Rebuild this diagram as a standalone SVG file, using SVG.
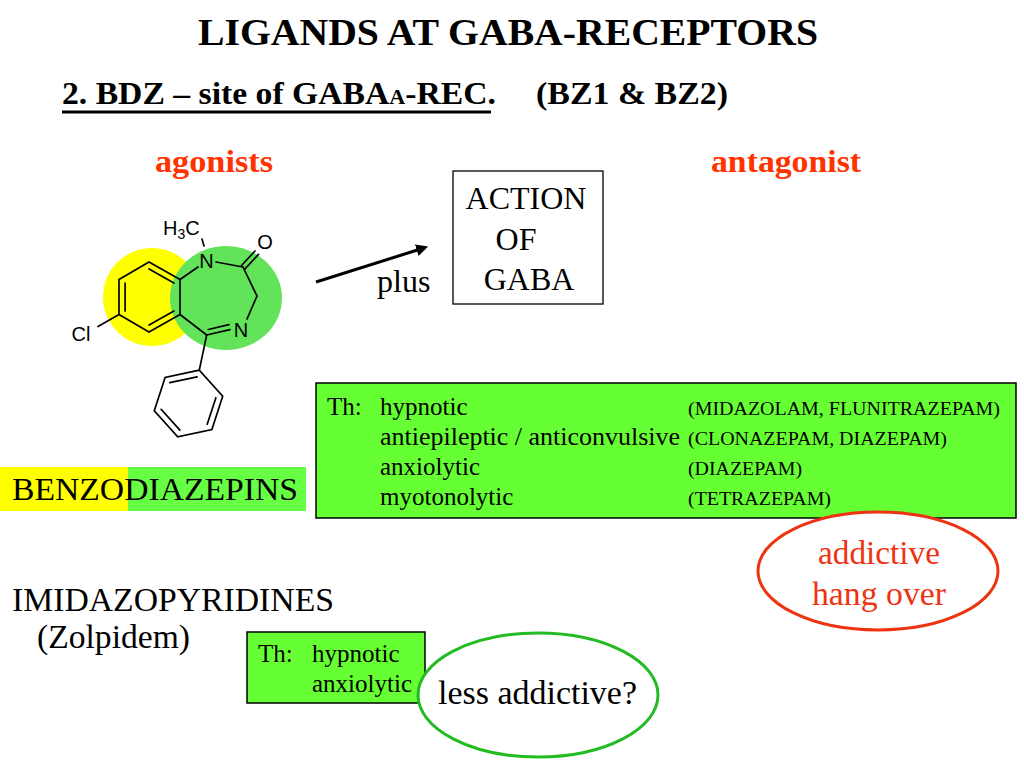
<svg xmlns="http://www.w3.org/2000/svg" width="1024" height="768" viewBox="0 0 1024 768">
<defs>
<style>
.t{font-family:"Liberation Serif","Times New Roman",serif;fill:#000}
.b{font-weight:bold}
.red{fill:#FF3300}
.a{font-family:"Liberation Sans",Arial,sans-serif;font-size:20px;fill:#000}
.bond{stroke:#000;stroke-width:1.7;fill:none;stroke-linecap:round}
.gbox{fill:#66FF33;stroke:#000;stroke-width:1.5}
</style>
<marker id="arr" viewBox="0 0 10 10" refX="2" refY="5" markerWidth="4" markerHeight="4" orient="auto">
<path d="M0,0 L10,5 L0,10 z" fill="#000"/>
</marker>
</defs>
<rect width="1024" height="768" fill="#fff"/>

<g id="title">
<text class="t b" x="508" y="45" font-size="37" text-anchor="middle" textLength="620" lengthAdjust="spacingAndGlyphs">LIGANDS AT GABA-RECEPTORS</text>
</g>

<g id="subtitle">
<text class="t b" x="62" y="104" font-size="32" textLength="434" lengthAdjust="spacingAndGlyphs">2. BDZ – site of GABA<tspan font-size="21">A</tspan>-REC.</text>
<line x1="62" y1="112" x2="491" y2="112" stroke="#000" stroke-width="3"/>
<text class="t b" x="536" y="104" font-size="32" textLength="192" lengthAdjust="spacingAndGlyphs">(BZ1 &amp; BZ2)</text>
</g>

<g id="agonists">
<text class="t b red" x="155" y="172" font-size="32" textLength="118" lengthAdjust="spacingAndGlyphs">agonists</text>
</g>
<g id="antagonist">
<text class="t b red" x="711" y="172" font-size="32" textLength="150" lengthAdjust="spacingAndGlyphs">antagonist</text>
</g>

<g id="molecule">
<ellipse cx="152" cy="297" rx="49" ry="49" fill="#FFFF00"/>
<ellipse cx="226" cy="298" rx="56" ry="52" fill="#62E35A"/>
<polygon class="bond" points="149,262 180,279.5 180,314.5 149,332 119,314.5 119,279.5"/>
<line class="bond" x1="149.1" y1="269" x2="173.9" y2="283"/>
<line class="bond" x1="125.1" y1="283" x2="125.1" y2="311"/>
<line class="bond" x1="173.9" y1="311" x2="149.1" y2="325"/>
<line class="bond" x1="119" y1="314.5" x2="98" y2="326.5"/>
<line class="bond" x1="180" y1="279.5" x2="198" y2="267"/>
<line class="bond" x1="202" y1="239" x2="204" y2="246"/>
<line class="bond" x1="216" y1="262" x2="243" y2="267"/>
<line class="bond" x1="241.5" y1="265.5" x2="255" y2="251"/>
<line class="bond" x1="245" y1="268.8" x2="258.5" y2="254.3"/>
<line class="bond" x1="243" y1="267" x2="257" y2="296"/>
<line class="bond" x1="257" y1="296" x2="247" y2="319"/>
<line class="bond" x1="206.7" y1="335" x2="230" y2="329.7"/>
<line class="bond" x1="208.3" y1="329.5" x2="229" y2="324.7"/>
<line class="bond" x1="206.7" y1="335" x2="180" y2="314.5"/>
<line class="bond" x1="206.7" y1="335" x2="199.3" y2="370.2"/>
<polygon class="bond" points="199.3,370.2 165.1,377.5 154.3,410.8 177.7,436.8 211.9,429.5 222.7,396.2"/>
<line class="bond" x1="197.1" y1="376.9" x2="169.8" y2="382.7"/>
<line class="bond" x1="161.1" y1="409.3" x2="179.9" y2="430.1"/>
<line class="bond" x1="207.2" y1="424.3" x2="215.9" y2="397.7"/>
<text class="a" x="163" y="235">H<tspan font-size="14" dy="4">3</tspan><tspan dy="-4">C</tspan></text>
<text class="a" x="206.5" y="268" text-anchor="middle">N</text>
<text class="a" x="265" y="249" text-anchor="middle">O</text>
<text class="a" x="241" y="337" text-anchor="middle">N</text>
<text class="a" x="81" y="341" text-anchor="middle" font-size="21">Cl</text>
</g>

<g id="connectors">
<line x1="316" y1="282" x2="419" y2="249.5" stroke="#000" stroke-width="3" marker-end="url(#arr)"/>
</g>

<g id="plus">
<text class="t" x="377" y="292" font-size="32">plus</text>
</g>

<g id="action">
<rect x="453" y="171" width="150" height="133" fill="#fff" stroke="#000" stroke-width="1.3"/>
<text class="t" x="526" y="209" font-size="32" text-anchor="middle">ACTION</text>
<text class="t" x="516" y="250" font-size="32" text-anchor="middle">OF</text>
<text class="t" x="529" y="290" font-size="32" text-anchor="middle">GABA</text>
</g>

<g id="benzodiazepins">
<rect x="0" y="467" width="128" height="44" fill="#FFFF00"/>
<rect x="128" y="467" width="178" height="44" fill="#66FF44"/>
<text class="t" x="12" y="500" font-size="32" textLength="286" lengthAdjust="spacingAndGlyphs">BENZODIAZEPINS</text>
</g>

<g id="therapy-bdz">
<rect class="gbox" x="316" y="383" width="700" height="135"/>
<text class="t" font-size="25" x="327" y="415">Th:</text>
<text class="t" font-size="25" x="380" y="415">hypnotic</text>
<text class="t" font-size="25" x="380" y="445" textLength="300" lengthAdjust="spacingAndGlyphs">antiepileptic / anticonvulsive</text>
<text class="t" font-size="25" x="380" y="475">anxiolytic</text>
<text class="t" font-size="25" x="380" y="505">myotonolytic</text>
<text class="t" font-size="19" x="688" y="415" textLength="312" lengthAdjust="spacingAndGlyphs">(MIDAZOLAM, FLUNITRAZEPAM)</text>
<text class="t" font-size="19" x="688" y="445" textLength="259" lengthAdjust="spacingAndGlyphs">(CLONAZEPAM, DIAZEPAM)</text>
<text class="t" font-size="19" x="688" y="475" textLength="114" lengthAdjust="spacingAndGlyphs">(DIAZEPAM)</text>
<text class="t" font-size="19" x="688" y="505" textLength="143" lengthAdjust="spacingAndGlyphs">(TETRAZEPAM)</text>
</g>

<g id="addictive">
<ellipse cx="878" cy="571" rx="120" ry="59" fill="#fff" stroke="#EE3311" stroke-width="3"/>
<text class="t" x="818" y="564" font-size="33" textLength="122" lengthAdjust="spacingAndGlyphs" style="fill:#EE3311">addictive</text>
<text class="t" x="812" y="605" font-size="33" textLength="134" lengthAdjust="spacingAndGlyphs" style="fill:#EE3311">hang over</text>
</g>

<g id="imidazopyridines">
<text class="t" x="12" y="611" font-size="33" textLength="322" lengthAdjust="spacingAndGlyphs">IMIDAZOPYRIDINES</text>
<text class="t" x="37" y="648" font-size="33" textLength="153" lengthAdjust="spacingAndGlyphs">(Zolpidem)</text>
</g>

<g id="therapy-zolpidem">
<rect class="gbox" x="247" y="632" width="178" height="71"/>
<text class="t" font-size="25" x="258" y="662">Th:</text>
<text class="t" font-size="25" x="312" y="662">hypnotic</text>
<text class="t" font-size="25" x="312" y="692">anxiolytic</text>
</g>

<g id="less-addictive">
<ellipse cx="538" cy="695" rx="120" ry="62" fill="#fff" stroke="#22BB22" stroke-width="3"/>
<text class="t" x="438" y="704" font-size="33" textLength="199" lengthAdjust="spacingAndGlyphs">less addictive?</text>
</g>
</svg>
